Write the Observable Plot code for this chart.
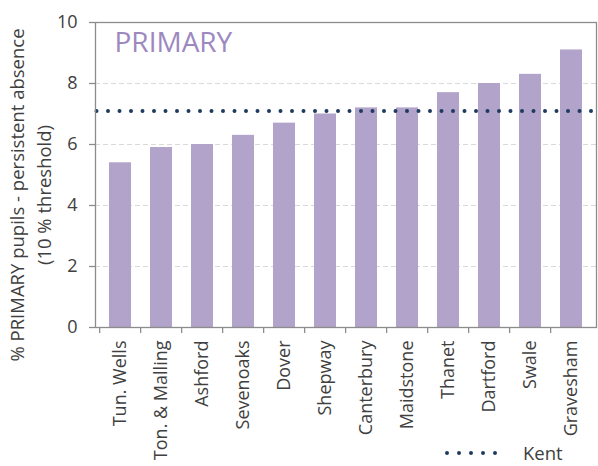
<!DOCTYPE html>
<html>
<head>
<meta charset="utf-8">
<script src="https://cdn.jsdelivr.net/npm/d3@7"></script>
<script src="https://cdn.jsdelivr.net/npm/@observablehq/plot@0.6"></script>
<style>
  html, body { margin: 0; padding: 0; background: #fff; }
  #wrap { position: relative; width: 598px; height: 466px; font-family: "Open Sans", sans-serif; }
  #legend { position: absolute; left: 444px; top: 440px; display: flex; align-items: center; font-size: 18.5px; color: #404040; line-height: 26px; }
</style>
</head>
<body>
<div id="wrap">
  <div id="chart"></div>
  <div id="legend">
    <svg width="66" height="12"><line x1="3" x2="63" y1="6" y2="6" stroke="#1f3a5f" stroke-width="4" stroke-linecap="round" stroke-dasharray="0 12"/></svg>
    <span style="margin-left:13px">Kent</span>
  </div>
</div>
<script>
const districts = ["Tun. Wells", "Ton. & Malling", "Ashford", "Sevenoaks", "Dover", "Shepway", "Canterbury", "Maidstone", "Thanet", "Dartford", "Swale", "Gravesham"];
const values = [5.4, 5.9, 6.0, 6.3, 6.7, 7.0, 7.2, 7.2, 7.7, 8.0, 8.3, 9.1];
const kentAverage = [7.1];
const yTicks = [0, 2, 4, 6, 8, 10];
const gridTicks = [2, 4, 6, 8];
const title = "PRIMARY";
const yLabel1 = "% PRIMARY pupils - persistent absence";
const yLabel2 = "(10 % threshold)";

const data = districts.map((d, i) => ({district: d, value: values[i]}));

const W = 598, H = 466, ML = 95, MR = 2, MT = 22, MB = 139;
const step = (W - ML - MR) / districts.length;
const pad = 0.473;
const axisGray = "#8c8c8c";

const chart = Plot.plot({
  width: W, height: H,
  marginLeft: ML, marginRight: MR, marginTop: MT, marginBottom: MB,
  style: {fontFamily: "'Open Sans', sans-serif", color: "#404040", background: "transparent"},
  x: {domain: districts, paddingInner: pad, paddingOuter: pad / 2},
  y: {domain: [0, 10]},
  marks: [
    Plot.ruleY(gridTicks, {stroke: "#d9d9d9", strokeWidth: 1.2, strokeDasharray: "5 3"}),
    Plot.barY(data, {x: "district", y: "value", fill: "#b1a3c9"}),
    Plot.ruleY(kentAverage, {stroke: "#1f3a5f", strokeWidth: 4, strokeLinecap: "round", strokeDasharray: "0 11.5", insetLeft: 1.5}),
    Plot.frame({stroke: axisGray, strokeWidth: 1.3}),
    Plot.ruleX(districts, {x: d => d, dx: -step / 2, y1: 0, y2: 0, insetBottom: -6, stroke: axisGray, strokeWidth: 1.3}),
    Plot.text([title], {text: d => d, frameAnchor: "top-left", dx: 19, dy: 10, fontSize: 28, fill: "#9d88c0", textAnchor: "start", lineAnchor: "top"}),
    Plot.axisX({tickSize: 0, tickPadding: 13, tickRotate: -90, fontSize: 18, label: null, fill: "#404040"}),
    Plot.axisY({ticks: yTicks, tickSize: 6, tickPadding: 12, fontSize: 18, label: null, stroke: axisGray, strokeWidth: 1.3, fill: "#404040"}),
    Plot.text([yLabel1], {text: d => d, frameAnchor: "left", rotate: -90, dx: -77, dy: 20, fontSize: 18.5, fill: "#404040", textAnchor: "middle", lineAnchor: "middle"}),
    Plot.text([yLabel2], {text: d => d, frameAnchor: "left", rotate: -90, dx: -50, dy: 20, fontSize: 18.5, fill: "#404040", textAnchor: "middle", lineAnchor: "middle"})
  ]
});
document.getElementById("chart").appendChild(chart);
</script>
</body>
</html>
